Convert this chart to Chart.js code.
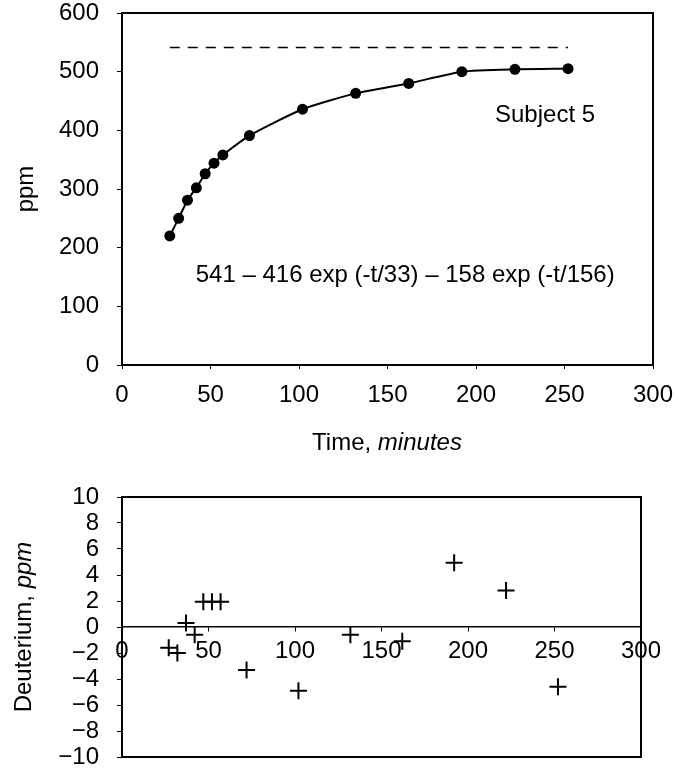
<!DOCTYPE html>
<html>
<head>
<meta charset="utf-8">
<script src="https://cdn.jsdelivr.net/npm/chart.js@4"></script>
<style>
  html, body { margin: 0; padding: 0; background: #fff; }
  #wrap { position: relative; width: 678px; height: 773px; }
  #top-box { position: absolute; left: 0; top: 0; width: 678px; height: 470px; }
  #bottom-box { position: absolute; left: 0; top: 470px; width: 678px; height: 303px; }
</style>
</head>
<body>
<div id="wrap">
  <div id="top-box"><canvas id="ppm-chart"></canvas></div>
  <div id="bottom-box"><canvas id="resid-chart"></canvas></div>
</div>
<script>
// sampling times (minutes) and measured deuterium (ppm)
const times = [27, 32, 37, 42, 47, 52, 57, 72, 102, 132, 162, 192, 222, 252];
const ppmValues = [220, 250, 281, 302, 326, 344, 358, 391, 436, 463, 480, 500, 504, 505];
// plateau (dashed)
const plateauTimes = [27, 252];
const plateauValues = [541, 541];
// residuals, ppm
const residuals = [-1.6, -2.0, 0.3, -0.6, 1.95, 1.95, 1.95, -3.3, -4.9, -0.6, -1.1, 4.95, 2.8, -4.6];

const timeTicks = [0, 50, 100, 150, 200, 250, 300];
const ppmTicks = [0, 100, 200, 300, 400, 500, 600];
const residTicks = [-10, -8, -6, -4, -2, 0, 2, 4, 6, 8, 10];

const subjectLabel = 'Subject 5';
const equationLabel = '541 \u2013 416 exp (-t/33) \u2013 158 exp (-t/156)';

const FONT = "'Liberation Sans', Arial, Helvetica, sans-serif";
const FSIZE = 24;

function toPoints(xs, ys) {
  return xs.map((x, i) => ({ x: x, y: ys[i] }));
}

function fixedTicks(list) {
  return function(scale) {
    scale.ticks = list.map(v => ({ value: v }));
  };
}

// keep label overhang from moving the plot area
function noPad(scale) {
  scale.paddingTop = 0;
  scale.paddingBottom = 0;
  scale.paddingLeft = 0;
  scale.paddingRight = 0;
}

// draw a row of text pieces (some italic) centred on x,y
function drawParts(ctx, parts, x, y, rot) {
  ctx.save();
  ctx.translate(x, y);
  if (rot) ctx.rotate(rot);
  ctx.fillStyle = '#000';
  ctx.textBaseline = 'middle';
  ctx.textAlign = 'left';
  let total = 0;
  parts.forEach(p => {
    ctx.font = (p.italic ? 'italic ' : '') + FSIZE + 'px ' + FONT;
    total += ctx.measureText(p.text).width;
  });
  let cx = -total / 2;
  parts.forEach(p => {
    ctx.font = (p.italic ? 'italic ' : '') + FSIZE + 'px ' + FONT;
    ctx.fillText(p.text, cx, 0);
    cx += ctx.measureText(p.text).width;
  });
  ctx.restore();
}

const framePlugin = {
  id: 'frame',
  beforeDatasetsDraw(chart) {
    const { ctx, chartArea: a } = chart;
    ctx.save();
    ctx.strokeStyle = '#000';
    ctx.lineWidth = 2;
    ctx.strokeRect(a.left, a.top, a.right - a.left, a.bottom - a.top);
    ctx.restore();
  }
};

const textPlugin = {
  id: 'texts',
  afterDraw(chart, args, opts) {
    const ctx = chart.ctx;
    (opts.items || []).forEach(it => {
      let x = it.x, y = it.y;
      if (it.data) {
        x = chart.scales.x.getPixelForValue(it.data[0]);
        y = chart.scales.y.getPixelForValue(it.data[1]);
      }
      drawParts(ctx, it.parts, x, y, it.rot || 0);
    });
  }
};

const tickFont = { family: FONT, size: FSIZE };

new Chart(document.getElementById('ppm-chart'), {
  type: 'scatter',
  data: {
    datasets: [
      {
        label: 'measured',
        data: toPoints(times, ppmValues),
        showLine: true,
        borderColor: '#000',
        backgroundColor: '#000',
        borderWidth: 2,
        pointRadius: 5.5,
        pointBorderWidth: 0,
        tension: 0.2
      },
      {
        label: 'plateau',
        data: toPoints(plateauTimes, plateauValues),
        showLine: true,
        borderColor: '#000',
        borderWidth: 1.5,
        borderDash: [10, 8],
        pointRadius: 0
      }
    ]
  },
  options: {
    responsive: true,
    maintainAspectRatio: false,
    animation: false,
    layout: { padding: { top: 13, right: 25, left: 0, bottom: 0 } },
    plugins: {
      legend: { display: false },
      tooltip: { enabled: false },
      texts: {
        items: [
          { parts: [{ text: subjectLabel }], data: [239, 426] },
          { parts: [{ text: equationLabel }], data: [160, 153] },
          { parts: [{ text: 'Time, ' }, { text: 'minutes', italic: true }], x: 387, y: 443 },
          { parts: [{ text: 'ppm' }], x: 26, y: 189, rot: -Math.PI / 2 }
        ]
      }
    },
    scales: {
      x: {
        type: 'linear',
        min: 0,
        max: 300,
        afterBuildTicks: fixedTicks(timeTicks),
        afterFit: s => { s.height = 105; noPad(s); },
        grid: { display: true, drawOnChartArea: false, tickLength: 4, color: '#000' },
        border: { color: '#000', width: 2 },
        ticks: { color: '#000', font: tickFont, padding: 12, maxRotation: 0, autoSkip: false }
      },
      y: {
        min: 0,
        max: 600,
        afterBuildTicks: fixedTicks(ppmTicks),
        afterFit: s => { s.width = 122; noPad(s); },
        grid: { display: true, drawOnChartArea: false, tickLength: 5, color: '#000' },
        border: { color: '#000', width: 2 },
        ticks: { color: '#000', font: tickFont, padding: 18, autoSkip: false }
      }
    }
  },
  plugins: [framePlugin, textPlugin]
});

new Chart(document.getElementById('resid-chart'), {
  type: 'scatter',
  data: {
    datasets: [
      {
        label: 'residual',
        data: toPoints(times, residuals),
        pointStyle: 'cross',
        pointRadius: 8.5,
        borderColor: '#000',
        borderWidth: 2
      }
    ]
  },
  options: {
    responsive: true,
    maintainAspectRatio: false,
    animation: false,
    layout: { padding: { top: 27, right: 37, left: 0, bottom: 16 } },
    plugins: {
      legend: { display: false },
      tooltip: { enabled: false },
      texts: {
        items: [
          { parts: [{ text: 'Deuterium, ' }, { text: 'ppm', italic: true }], x: 24, y: 157, rot: -Math.PI / 2 }
        ]
      }
    },
    scales: {
      x: {
        type: 'linear',
        position: { y: 0 },
        min: 0,
        max: 300,
        afterBuildTicks: fixedTicks(timeTicks),
        afterFit: noPad,
        grid: { display: true, drawOnChartArea: false, tickLength: 4, color: '#000' },
        border: { color: '#000', width: 1.5 },
        ticks: { color: '#000', font: tickFont, padding: 6, maxRotation: 0, autoSkip: false }
      },
      y: {
        min: -10,
        max: 10,
        afterBuildTicks: fixedTicks(residTicks),
        afterFit: s => { s.width = 122; noPad(s); },
        grid: { display: true, drawOnChartArea: false, tickLength: 5, color: '#000' },
        border: { color: '#000', width: 2 },
        ticks: {
          color: '#000',
          font: tickFont,
          padding: 18,
          autoSkip: false,
          callback: v => String(v).replace('-', '\u2212')
        }
      }
    }
  },
  plugins: [framePlugin, textPlugin]
});
</script>
</body>
</html>
